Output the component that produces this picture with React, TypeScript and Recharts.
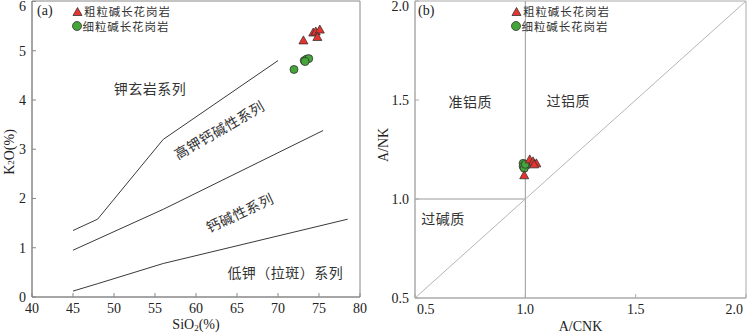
import React from "react";
import {
  ScatterChart,
  Scatter,
  XAxis,
  YAxis,
  ReferenceLine,
  ReferenceDot,
  ReferenceArea,
  Label,
} from "recharts";

// (a) SiO2 - K2O
const SIO2_TICKS = [40, 45, 50, 55, 60, 65, 70, 75, 80];
const K2O_TICKS = [0, 1, 2, 3, 4, 5, 6];
const K2O_MAX = 6.01;

const coarseA = [
  { x: 73.1, y: 5.21 },
  { x: 74.3, y: 5.37 },
  { x: 74.6, y: 5.39 },
  { x: 75.1, y: 5.43 },
  { x: 74.8, y: 5.28 },
];
const fineA = [
  { x: 71.95, y: 4.62 },
  { x: 73.2, y: 4.8 },
  { x: 73.5, y: 4.83 },
  { x: 73.75, y: 4.84 },
  { x: 73.3, y: 4.78 },
];

const shoshoniteLine = [
  { x: 45, y: 1.35 },
  { x: 48, y: 1.58 },
  { x: 56, y: 3.2 },
  { x: 70, y: 4.8 },
];
const highKLine = [
  { x: 45, y: 0.95 },
  { x: 56, y: 1.78 },
  { x: 75.5, y: 3.38 },
];
const lowKLine = [
  { x: 45, y: 0.12 },
  { x: 48, y: 0.27 },
  { x: 56, y: 0.68 },
  { x: 78.5, y: 1.58 },
];

const zonesA = [
  { x: 54.4, y: 4.25, text: "钾玄岩系列", angle: 0 },
  { x: 62.8, y: 3.4, text: "高钾钙碱性系列", angle: -30 },
  { x: 65.3, y: 1.72, text: "钙碱性系列", angle: -25 },
  { x: 70.9, y: 0.5, text: "低钾（拉斑）系列", angle: 0 },
];

// (b) A/CNK - A/NK
const ACNK_TICKS = [0.5, 1.0, 1.5, 2.0];
const ANK_TICKS = [0.5, 1.0, 1.5, 2.0];

const coarseB = [
  { x: 0.995, y: 1.12 },
  { x: 1.02, y: 1.2 },
  { x: 1.035, y: 1.19 },
  { x: 1.05, y: 1.18 },
  { x: 1.04, y: 1.175 },
];
const fineB = [
  { x: 0.99, y: 1.18 },
  { x: 0.99, y: 1.165 },
  { x: 1.005, y: 1.17 },
  { x: 0.995, y: 1.155 },
  { x: 1.0, y: 1.175 },
];

const zonesB = [
  { x: 0.75, y: 1.495, text: "准铝质", angle: 0 },
  { x: 1.195, y: 1.5, text: "过铝质", angle: 0 },
  { x: 0.627, y: 0.905, text: "过碱质", angle: 0 },
];

const LEGEND = ["粗粒碱长花岗岩", "细粒碱长花岗岩"];

const SERIF = "'Liberation Serif', 'Times New Roman', serif";
const CJK = "'Noto Sans CJK SC', sans-serif";
const RED = "#e8332e";
const GREEN = "#45a53a";

const Triangle = (props: any) => {
  const { cx, cy } = props;
  if (cx == null || cy == null) return <g />;
  return (
    <polygon
      points={`${cx - 4.5},${cy + 3.5} ${cx + 4.5},${cy + 3.5} ${cx},${cy - 4.5}`}
      fill={RED}
      stroke="#333"
      strokeWidth={0.8}
    />
  );
};

const Circle = (props: any) => {
  const { cx, cy } = props;
  if (cx == null || cy == null) return <g />;
  return <circle cx={cx} cy={cy} r={4} fill={GREEN} stroke="#333" strokeWidth={0.8} />;
};

const NoDot = () => <g />;

const zoneText = (text: string, angle: number) => (p: any) => (
  <text
    x={p.cx}
    y={p.cy}
    textAnchor="middle"
    dominantBaseline="central"
    transform={`rotate(${angle}, ${p.cx}, ${p.cy})`}
    fontFamily={CJK}
    fontSize={14}
    fill="#333"
    letterSpacing={0.5}
  >
    {text}
  </text>
);

const makeBottomTick = (ticks: number[], fmt: (v: number) => string, shiftEdges: boolean) => (p: any) => {
  const v = p.payload.value;
  let anchor: "middle" | "start" | "end" = "middle";
  let x = p.x;
  if (shiftEdges && v === ticks[0]) {
    anchor = "start";
    x = p.x + 2;
  }
  if (shiftEdges && v === ticks[ticks.length - 1]) {
    anchor = "end";
    x = p.x - 3;
  }
  return (
    <text x={x} y={p.y} dy="0.71em" textAnchor={anchor} fontFamily={SERIF} fontSize={14} fill="#222">
      {fmt(v)}
    </text>
  );
};

const makeLeftTick = (ticks: number[], fmt: (v: number) => string) => (p: any) => {
  const v = p.payload.value;
  const dy = v === ticks[ticks.length - 1] ? 5 : 0;
  return (
    <text x={p.x} y={p.y + dy} dy="0.35em" textAnchor="end" fontFamily={SERIF} fontSize={14} fill="#222">
      {fmt(v)}
    </text>
  );
};

// legend drawn as a small svg overlay so the rows sit where the reference has them
const Legend = ({ left }: { left: number }) => (
  <svg width={120} height={34} style={{ position: "absolute", left, top: 0, overflow: "visible" }}>
    <Triangle cx={5.5} cy={12} />
    <text x={12} y={16} fontFamily={CJK} fontSize={11.5} fill="#333" letterSpacing={0.9}>
      {LEGEND[0]}
    </text>
    <circle cx={5} cy={26} r={4.5} fill={GREEN} stroke="#333" strokeWidth={0.8} />
    <text x={10.5} y={30.5} fontFamily={CJK} fontSize={11.5} fill="#333" letterSpacing={0.9}>
      {LEGEND[1]}
    </text>
  </svg>
);

const PanelTag = ({ left, text }: { left: number; text: string }) => (
  <div style={{ position: "absolute", left, top: 3, fontFamily: SERIF, fontSize: 14, color: "#222" }}>
    {text}
  </div>
);

export default function App() {
  return (
    <div style={{ position: "absolute", left: 0, top: 0, width: 750, height: 334, background: "#fff" }}>
      <div style={{ position: "absolute", left: 0, top: 0 }}>
        <ScatterChart width={375} height={334} margin={{ top: 1, right: 15, bottom: 0, left: 0 }}>
          <XAxis
            type="number"
            dataKey="x"
            domain={[40, 80]}
            ticks={SIO2_TICKS}
            height={37}
            axisLine={{ stroke: "#888" }}
            tickLine={{ stroke: "#888" }}
            tickSize={-4}
            tickMargin={10}
            tick={makeBottomTick(SIO2_TICKS, (v) => String(v), false)}
            interval={0}
          >
            <Label
              content={(p: any) => (
                <text
                  x={p.viewBox.x + p.viewBox.width / 2}
                  y={p.viewBox.y + 32}
                  textAnchor="middle"
                  fontFamily={SERIF}
                  fontSize={14}
                  fill="#222"
                >
                  SiO
                  <tspan fontSize={9} dy={2}>2</tspan>
                  <tspan dy={-2}>(%)</tspan>
                </text>
              )}
            />
          </XAxis>
          <YAxis
            type="number"
            dataKey="y"
            domain={[0, K2O_MAX]}
            ticks={K2O_TICKS}
            width={32}
            axisLine={{ stroke: "#888" }}
            tickLine={{ stroke: "#888" }}
            tickSize={-4}
            tickMargin={10}
            tick={makeLeftTick(K2O_TICKS, (v) => String(v))}
            interval={0}
          >
            <Label
              content={() => (
                <text
                  x={9}
                  y={152}
                  transform="rotate(-90, 9, 152)"
                  textAnchor="middle"
                  dominantBaseline="central"
                  fontFamily={SERIF}
                  fontSize={14}
                  fill="#222"
                >
                  K
                  <tspan fontSize={9} dy={2}>2</tspan>
                  <tspan dy={-2}>O(%)</tspan>
                </text>
              )}
            />
          </YAxis>
          <ReferenceArea x1={40} x2={80} y1={0} y2={K2O_MAX} fill="none" fillOpacity={0} stroke="#888" />
          <Scatter data={shoshoniteLine} line={{ stroke: "#3a3a3a", strokeWidth: 1 }} shape={NoDot} isAnimationActive={false} />
          <Scatter data={highKLine} line={{ stroke: "#3a3a3a", strokeWidth: 1 }} shape={NoDot} isAnimationActive={false} />
          <Scatter data={lowKLine} line={{ stroke: "#3a3a3a", strokeWidth: 1 }} shape={NoDot} isAnimationActive={false} />
          {zonesA.map((z) => (
            <ReferenceDot key={z.text} x={z.x} y={z.y} r={0} shape={zoneText(z.text, z.angle)} />
          ))}
          <Scatter name={LEGEND[1]} data={fineA} shape={Circle} isAnimationActive={false} />
          <Scatter name={LEGEND[0]} data={coarseA} shape={Triangle} isAnimationActive={false} />
        </ScatterChart>
      </div>
      <PanelTag left={37} text="(a)" />
      <Legend left={72} />

      <div style={{ position: "absolute", left: 375, top: 0 }}>
        <ScatterChart width={375} height={334} margin={{ top: 1, right: 4, bottom: 0, left: 0 }}>
          <XAxis
            type="number"
            dataKey="x"
            domain={[0.5, 2]}
            ticks={ACNK_TICKS}
            height={36}
            axisLine={{ stroke: "#aaa" }}
            tickLine={{ stroke: "#aaa" }}
            tickSize={-4}
            tickMargin={10}
            tick={makeBottomTick(ACNK_TICKS, (v) => v.toFixed(1), true)}
            interval={0}
          >
            <Label
              content={(p: any) => (
                <text
                  x={p.viewBox.x + p.viewBox.width / 2}
                  y={p.viewBox.y + 33}
                  textAnchor="middle"
                  fontFamily={SERIF}
                  fontSize={14}
                  fill="#222"
                >
                  A/CNK
                </text>
              )}
            />
          </XAxis>
          <YAxis
            type="number"
            dataKey="y"
            domain={[0.5, 2]}
            ticks={ANK_TICKS}
            width={40}
            axisLine={{ stroke: "#aaa" }}
            tickLine={{ stroke: "#aaa" }}
            tickSize={-4}
            tickMargin={10}
            tick={makeLeftTick(ANK_TICKS, (v) => v.toFixed(1))}
            interval={0}
          >
            <Label
              content={() => (
                <text
                  x={8}
                  y={145}
                  transform="rotate(-90, 8, 145)"
                  textAnchor="middle"
                  dominantBaseline="central"
                  fontFamily={SERIF}
                  fontSize={14}
                  fill="#222"
                >
                  A/NK
                </text>
              )}
            />
          </YAxis>
          <ReferenceArea x1={0.5} x2={2} y1={0.5} y2={2} fill="none" fillOpacity={0} stroke="#aaa" />
          <ReferenceLine x={1} stroke="#999" />
          <ReferenceLine segment={[{ x: 0.5, y: 1 }, { x: 1, y: 1 }]} stroke="#999" />
          <ReferenceLine segment={[{ x: 0.5, y: 0.5 }, { x: 2, y: 2 }]} stroke="#b5b5b5" />
          {zonesB.map((z) => (
            <ReferenceDot key={z.text} x={z.x} y={z.y} r={0} shape={zoneText(z.text, z.angle)} />
          ))}
          <Scatter name={LEGEND[1]} data={fineB} shape={Circle} isAnimationActive={false} />
          <Scatter name={LEGEND[0]} data={coarseB} shape={Triangle} isAnimationActive={false} />
        </ScatterChart>
      </div>
      <PanelTag left={418} text="(b)" />
      <Legend left={511} />
    </div>
  );
}
